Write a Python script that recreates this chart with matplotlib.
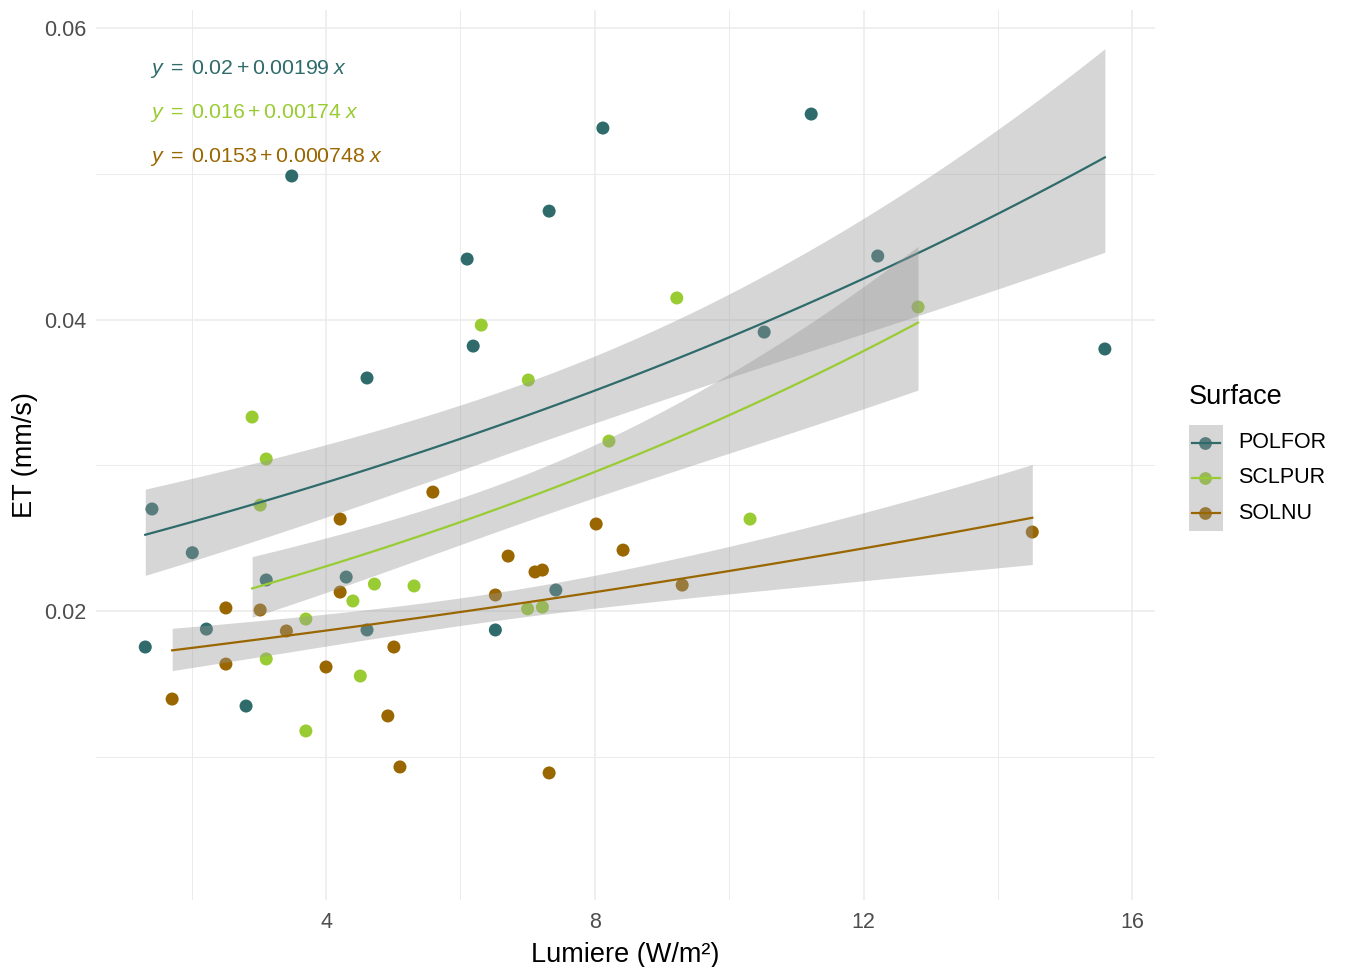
import numpy as np
import matplotlib
matplotlib.use('Agg')
import matplotlib.pyplot as plt
from matplotlib.patches import Rectangle

plt.rcParams['font.family'] = ['Liberation Sans', 'DejaVu Sans']
plt.rcParams['mathtext.fontset'] = 'custom'
plt.rcParams['mathtext.rm'] = 'Liberation Sans'
plt.rcParams['mathtext.it'] = 'Liberation Sans:italic'

# groupes et couleurs
surfaces = ['POLFOR', 'SCLPUR', 'SOLNU']
colors = ['#2F6B6B', '#99CC33', '#996600']

# donnees
polfor_x = [1.41, 2.01, 1.31, 2.22, 2.81, 3.11, 3.49, 4.30, 4.61, 4.61,
            6.10, 6.19, 6.52, 7.32, 7.42, 8.12, 10.52, 11.22, 12.21, 15.59]
polfor_y = [0.0270, 0.0240, 0.01753, 0.01876, 0.01348, 0.02213, 0.04985, 0.02233, 0.03599, 0.0187,
            0.04415, 0.03818, 0.0187, 0.04744, 0.02144, 0.05314, 0.03914, 0.0541, 0.04436, 0.03798]

sclpur_x = [2.90, 3.11, 3.02, 3.11, 3.70, 3.70, 4.40, 4.51, 4.72, 5.31,
            6.31, 7.01, 7.00, 7.22, 8.21, 9.22, 10.31, 12.81]
sclpur_y = [0.03331, 0.03043, 0.02727, 0.01671, 0.01945, 0.01177, 0.02069, 0.01554, 0.02185, 0.02172,
            0.03962, 0.03585, 0.02015, 0.02027, 0.03166, 0.04148, 0.02631, 0.04086]

solnu_x = [1.71, 2.51, 2.51, 3.02, 3.41, 4.00, 4.21, 4.21, 4.92, 5.01, 5.10,
           5.59, 6.52, 6.71, 7.11, 7.22, 7.32, 8.02, 8.42, 9.30, 14.51]
solnu_y = [0.01396, 0.02021, 0.01636, 0.02007, 0.01863, 0.01616, 0.02631, 0.0213, 0.0128, 0.01753, 0.0093,
           0.02816, 0.0211, 0.02377, 0.02268, 0.02281, 0.00889, 0.02597, 0.02418, 0.02178, 0.02542]

equations = [r'$y\;=\;0.02+0.00199\;x$',
             r'$y\;=\;0.016+0.00174\;x$',
             r'$y\;=\;0.0153+0.000748\;x$']

groups_x = [polfor_x, sclpur_x, solnu_x]
groups_y = [polfor_y, sclpur_y, solnu_y]

# largeur de la bande (en ecarts-types sur l'echelle du lien), estimee sur le graphique
band_z = 0.84


def glm_log(x, y, z, n_out=80):
    # glm gaussien, lien log (IRLS) + bande sur l'echelle du lien
    x = np.asarray(x, float)
    y = np.asarray(y, float)
    X = np.column_stack([np.ones_like(x), x])
    beta = np.array([np.log(y.mean()), 0.0])
    for _ in range(100):
        eta = X @ beta
        mu = np.exp(eta)
        zz = eta + (y - mu) / mu
        w = mu ** 2
        XtW = X.T * w
        beta = np.linalg.solve(XtW @ X, XtW @ zz)
    mu = np.exp(X @ beta)
    w = mu ** 2
    disp = np.sum((y - mu) ** 2) / (len(x) - 2)
    cov = disp * np.linalg.inv((X.T * w) @ X)
    xs = np.linspace(x.min(), x.max(), n_out)
    Xs = np.column_stack([np.ones_like(xs), xs])
    eta_s = Xs @ beta
    se = np.sqrt(np.einsum('ij,jk,ik->i', Xs, cov, Xs))
    return xs, np.exp(eta_s), np.exp(eta_s - z * se), np.exp(eta_s + z * se)


W, H = 1349, 967
fig = plt.figure(figsize=(W / 100, H / 100), dpi=100)
ax = fig.add_axes([96 / W, 1 - 900 / H, (1155 - 96) / W, 890 / H])

for gx, gy, c in zip(groups_x, groups_y, colors):
    ax.scatter(gx, gy, s=88, color=c, edgecolors='none', zorder=2)

for gx, gy, c in zip(groups_x, groups_y, colors):
    xs, fit, lo, hi = glm_log(gx, gy, band_z)
    ax.fill_between(xs, lo, hi, color='#999999', alpha=0.4, lw=0, zorder=3)
    ax.plot(xs, fit, color=c, lw=1.6, zorder=3)

for i, (eq, c) in enumerate(zip(equations, colors)):
    ax.text(0.051, 0.934 - i * 0.0495, eq, color=c, fontsize=15.3, transform=ax.transAxes,
            ha='left', va='center', zorder=5)

ax.set_xlim(0.577, 16.336)
ax.set_ylim(0.000171, 0.06124)
ax.set_xticks([4, 8, 12, 16])
ax.set_xticks([2, 6, 10, 14], minor=True)
ax.set_yticks([0.02, 0.04, 0.06])
ax.set_yticks([0.01, 0.03, 0.05], minor=True)
ax.set_yticklabels(['0.02', '0.04', '0.06'])
ax.grid(True, which='major', color='#EBEBEB', lw=1.1)
ax.grid(True, which='minor', color='#EBEBEB', lw=0.7)
ax.set_axisbelow(True)
for s in ax.spines.values():
    s.set_visible(False)
ax.tick_params(which='both', length=0, labelsize=15.5, labelcolor='#4D4D4D')
ax.tick_params(axis='x', pad=9)
ax.tick_params(axis='y', pad=7)
ax.set_xlabel('Lumiere (W/m²)', fontsize=19.5, labelpad=6)
ax.set_ylabel('ET (mm/s)', fontsize=19.5, labelpad=4)


def blend(c, a=0.4, bg=(0.6, 0.6, 0.6)):
    rgb = np.array(matplotlib.colors.to_rgb(c))
    return tuple(rgb * (1 - a) + np.array(bg) * a)


# legende dessinee a la main (coordonnees pixels)
lg = fig.add_axes([0, 0, 1, 1], facecolor='none')
lg.set_xlim(0, W)
lg.set_ylim(H, 0)
lg.axis('off')
lg.text(1189, 397, 'Surface', fontsize=19.5, ha='left', va='center')
key_top, key_h = 425, 35.3
lg.add_patch(Rectangle((1189, key_top), 34, key_h * len(surfaces), facecolor='#D6D6D6', edgecolor='none'))
for i, (name, c) in enumerate(zip(surfaces, colors)):
    yc = key_top + key_h * (i + 0.5)
    lg.plot([1205], [yc], 'o', ms=9.2, mew=0, color=blend(c))
    lg.plot([1192, 1220], [yc, yc], color=c, lw=1.6)
    lg.text(1238, yc, name, fontsize=15.5, ha='left', va='center')

fig.savefig('out.png', dpi=100)
